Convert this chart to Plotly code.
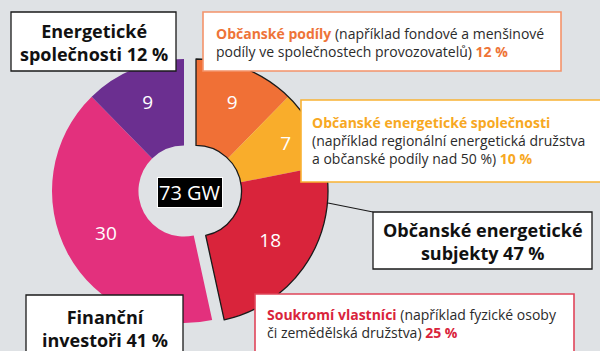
import plotly.graph_objects as go

# Installed capacity by owner group (GW), clockwise from 12 o'clock
labels = ["Občanské podíly", "Občanské energetické společnosti", "Soukromí vlastníci",
          "Finanční investoři", "Energetické společnosti"]
values = [9, 7, 18, 30, 9]
colors = ["#f07036", "#f9ad2b", "#d9243b", "#e3307d", "#6b2f90"]
citizen = [True, True, True, False, False]
total_label = "73 GW"

W, H = 600, 351
BG = "#dfe2e5"
FONT = "Open Sans"
CLEAR = "rgba(0,0,0,0)"


def px(x):
    return x / W


def py(y):
    return 1 - y / H


R = 132          # outer radius in px
CY = 191         # vertical centre of both rings
CX_LEFT = 184    # centre of the non-citizen ring
SHIFT = 12       # citizen ring is pushed to the right
HOLE = 0.345


def dom(cx):
    return dict(x=[px(cx - R), px(cx + R)], y=[py(CY + R), py(CY - R)])


def ring(show_citizen, cx):
    keep = [c == show_citizen for c in citizen]
    return go.Pie(
        labels=labels, values=values, sort=False, direction="clockwise", rotation=0,
        hole=HOLE, domain=dom(cx),
        marker=dict(colors=[c if k else CLEAR for c, k in zip(colors, keep)],
                    line=dict(width=0)),
        text=[str(v) if k else "" for v, k in zip(values, keep)],
        textinfo="text", textposition="inside", insidetextorientation="horizontal",
        insidetextfont=dict(family=FONT, size=19, color="white"),
        hoverinfo="skip", showlegend=False,
    )


citizen_sum = sum(v for v, c in zip(values, citizen) if c)
other_sum = sum(v for v, c in zip(values, citizen) if not c)

outline = go.Pie(
    values=[citizen_sum, other_sum], labels=["citizen", "other"], sort=False,
    direction="clockwise", rotation=0, hole=HOLE, domain=dom(CX_LEFT + SHIFT),
    marker=dict(colors=[CLEAR, CLEAR], line=dict(color="#1a1a1a", width=[1.3, 0])),
    textinfo="none", hoverinfo="skip", showlegend=False,
)

fig = go.Figure([ring(False, CX_LEFT), ring(True, CX_LEFT + SHIFT), outline])

shapes = []
annotations = []


def box(x0, y0, x1, y1, border, width=1.3):
    shapes.append(dict(type="rect", xref="paper", yref="paper", layer="above",
                       x0=px(x0), x1=px(x1), y0=py(y1), y1=py(y0),
                       fillcolor="white", line=dict(color=border, width=width)))


def text(x, y, s, size, anchor="left", color="#2b2b2b"):
    annotations.append(dict(xref="paper", yref="paper", x=px(x), y=py(y), text=s,
                            showarrow=False, xanchor=anchor, yanchor="middle",
                            align=anchor if anchor != "center" else "center",
                            font=dict(family=FONT, size=size, color=color)))


ORANGE, YELLOW, RED = "#ee7438", "#f7a823", "#d9243b"

# leader line to the citizen group box
shapes.append(dict(type="line", xref="paper", yref="paper", layer="above",
                   x0=px(328), y0=py(203), x1=px(373), y1=py(212),
                   line=dict(color="#1a1a1a", width=1.2)))

box(11, 12, 176, 71, "#1a1a1a")
text(93.5, 42, "<b>Energetické<br>společnosti 12 %</b>", 18, "center", "#111")

box(203, 12, 561, 71, "#f4936a", 1.6)
text(214, 42,
     f"<b><span style='color:{ORANGE}'>Občanské podíly</span></b> (například fondové a menšinové<br>"
     f"podíly ve společnostech provozovatelů) <b><span style='color:{ORANGE}'>12 %</span></b>", 14)

box(301, 100, 606, 182, "#f9b233", 1.6)
text(310, 140,
     f"<b><span style='color:{YELLOW}'>Občanské energetické společnosti</span></b><br>"
     f"(například regionální energetická družstva<br>"
     f"a občanské podíly nad 50 %) <b><span style='color:{YELLOW}'>10 %</span></b>", 14)

box(373, 212, 592, 269, "#1a1a1a")
text(482.5, 241, "<b>Občanské energetické<br>subjekty 47 %</b>", 18, "center", "#111")

box(255, 294, 574, 362, "#e0455a", 1.6)
text(265, 323,
     f"<b><span style='color:{RED}'>Soukromí vlastníci</span></b> (například fyzické osoby<br>"
     f"či zemědělská družstva) <b><span style='color:{RED}'>25 %</span></b>", 14)

box(26, 295, 183, 362, "#1a1a1a")
text(104.5, 328, "<b>Finanční<br>investoři 41 %</b>", 18, "center", "#111")

annotations.append(dict(xref="paper", yref="paper", x=px(190), y=py(192.5), text=total_label,
                        showarrow=False, xanchor="center", yanchor="middle",
                        bgcolor="black", bordercolor="white", borderwidth=1, borderpad=1,
                        font=dict(family=FONT, size=20, color="white")))

fig.update_layout(
    width=W, height=H, margin=dict(l=0, r=0, t=0, b=0),
    paper_bgcolor=BG, plot_bgcolor=BG,
    shapes=shapes, annotations=annotations, showlegend=False,
)

fig.write_html("out.html")
